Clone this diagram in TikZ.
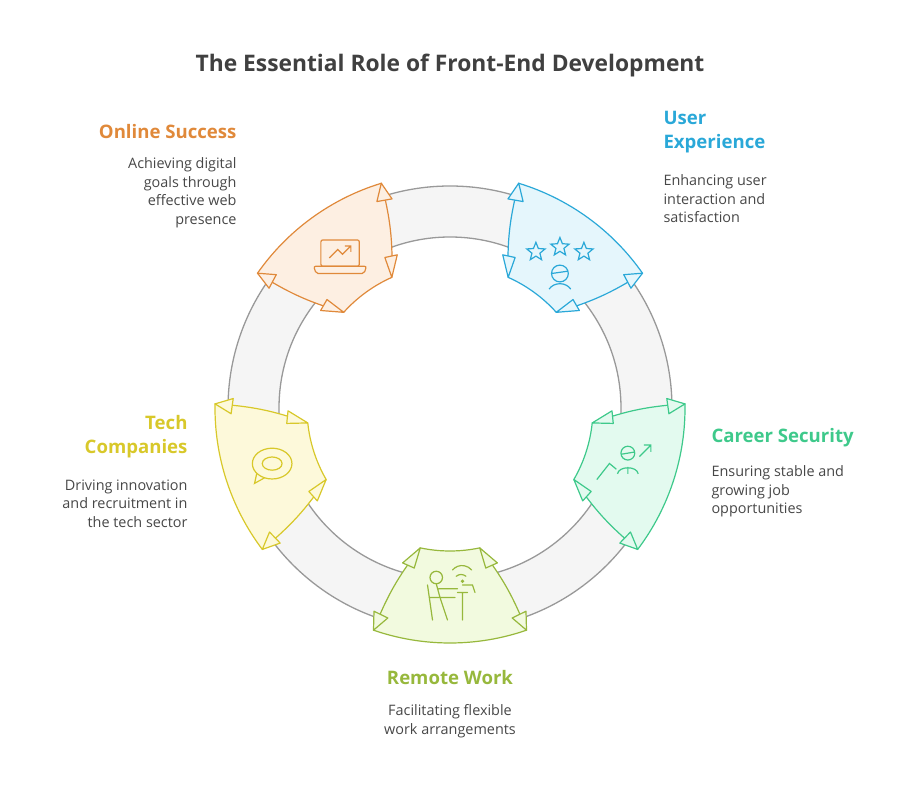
\documentclass[tikz,border=0pt]{standalone}
\usepackage{fontspec}
\usetikzlibrary{calc}
\setmainfont{Open Sans}
\definecolor{cOr}{HTML}{E0893A}
\definecolor{fOr}{HTML}{FDEFE2}
\definecolor{cBl}{HTML}{2AA8D8}
\definecolor{fBl}{HTML}{E5F6FC}
\definecolor{cGr}{HTML}{3EC98B}
\definecolor{fGr}{HTML}{E3FAEF}
\definecolor{cOl}{HTML}{97B83C}
\definecolor{fOl}{HTML}{F2FADF}
\definecolor{cYe}{HTML}{D8C82A}
\definecolor{fYe}{HTML}{FDF9DA}
\begin{document}
\begin{tikzpicture}[x=1pt,y=1pt,
  ttl/.style={font=\bfseries\fontsize{22.8}{27}\selectfont,text=black!75},
  hd/.style={font=\bfseries\fontsize{18.6}{24}\selectfont},
  ds/.style={font=\fontsize{14.4}{18.6}\selectfont,text=black!72}]
\useasboundingbox (0,0) rectangle (900,798);
\coordinate (c) at (450,390);
% ring
\fill[black!4,even odd rule] (c) circle (222) (c) circle (171);
\draw[black!40,line width=1.3pt] (c) circle (222) (c) circle (171);
\newcommand\myseg[3]{%
  \begin{scope}[shift={(c)},rotate=#1-270]
   \filldraw[draw=#2,fill=#3,line width=1.2pt,line join=round]
     (258:143) arc[start angle=258,end angle=282,radius=143]
     to[bend left=8] (289:235) arc[start angle=289,end angle=251,radius=235]
     to[bend left=8] cycle;
   \filldraw[draw=#2,fill=#3,line width=1.2pt,line join=round]
     (258:143) -- (253:162) -- (257.4:164) -- cycle
     (282:143) -- (287:162) -- (282.6:164) -- cycle
     (251:235) -- (253.5:219) -- (249.5:217) -- cycle
     (289:235) -- (286.5:219) -- (290.5:217) -- cycle;
  \end{scope}}
\myseg{270}{cOl}{fOl}
\myseg{54}{cBl}{fBl}
\myseg{126}{cOr}{fOr}
\myseg{198}{cYe}{fYe}
\myseg{342}{cGr}{fGr}
% remote work icon
\begin{scope}[shift={($(c)+(270:187)$)},scale=1.25,line width=1.2pt,line cap=round,cOl]
 \draw (-11,14) circle (5) (-11,9) -- (-8,-2) -- (4,-2) (-9,5) -- (6,5)
   (-8,-2) -- (-2,-20) (-18,8) -- (-14,-20) (-16,-2) -- (-9,-2) (6,2) -- (14,2) (10,2) -- (10,-20)
   (10,8) -- (18,8) -- (20,2);
 \draw (2,20) arc[start angle=140,end angle=40,radius=10] (5,15) arc[start angle=130,end angle=50,radius=6];
 \fill (10,11) circle (1.5);
\end{scope}
% user experience icon
\begin{scope}[shift={($(c)+(54:187)$)},scale=1.2,line width=1.2pt,cBl]
 \foreach \dx/\dy in {-20/4,0/8,20/4}
  \draw[shift={(\dx,\dy)}] (90:8)--(126:3.5)--(162:8)--(198:3.5)--(234:8)--(270:3.5)--(306:8)--(342:3.5)--(18:8)--(54:3.5)--cycle;
 \draw (0,-14) circle (7) (-7,-14) -- (7,-12) (-9,-27) .. controls (-5,-21) and (5,-21) .. (9,-27);
\end{scope}
% online success icon
\begin{scope}[shift={($(c)+(126:187)$)},scale=1.2,line width=1.2pt,cOr]
 \draw[rounded corners=2] (-16,-8) rectangle (16,14);
 \draw[rounded corners=2] (-22,-8) -- (22,-8) -- (20,-14) -- (-20,-14) -- cycle;
 \draw (-9,-1) -- (-2,6) -- (2,2) -- (9,9) (4,9) -- (9,9) -- (9,4);
\end{scope}
% tech icon
\begin{scope}[shift={($(c)+(198:187)$)},scale=1.1,line width=1.2pt,cYe]
 \draw (0,2) ellipse (18 and 14);
 \draw (0,2) ellipse (9 and 6);
 \draw (-14,-7) -- (-16,-16) -- (-7,-11);
\end{scope}
% career icon
\begin{scope}[shift={($(c)+(342:187)$)},scale=1.15,line width=1.2pt,cGr]
 \draw (0,11) circle (6) (-6,10) -- (6,12) (-9,-7) .. controls (-8,0) and (8,0) .. (9,-7) (0,-1) -- (0,-7);
 \draw (-27,-12) -- (-16,2) -- (-10,-3) (10,8) -- (20,18) (14,18) -- (20,18) -- (20,12);
\end{scope}
% texts
\node[ttl] (t) at (450,732) {The Essential Role of Front-End Development};
\node[hd,text=cOr,anchor=east] (h1) at (240,666) {Online Success};
\node[ds,anchor=north east,align=right] (d1) at (240,644) {Achieving digital\\goals through\\effective web\\presence};
\node[hd,text=cBl,anchor=north west,align=left] (h2) at (660,690) {User\\Experience};
\node[ds,anchor=north west,align=left] (d2) at (660,627) {Enhancing user\\interaction and\\satisfaction};
\node[hd,text=cGr,anchor=west] (h3) at (708,360) {Career Security};
\node[ds,anchor=north west,align=left] (d3) at (708,336) {Ensuring stable and\\growing job\\opportunities};
\node[hd,text=cYe,anchor=north east,align=right] (h4) at (191,386) {Tech\\Companies};
\node[ds,anchor=north east,align=right] (d4) at (191,322) {Driving innovation\\and recruitment in\\the tech sector};
\node[hd,text=cOl] (h5) at (450,120) {Remote Work};
\node[ds,align=center,anchor=north] (d5) at (450,97) {Facilitating flexible\\work arrangements};
\end{tikzpicture}
\end{document}
